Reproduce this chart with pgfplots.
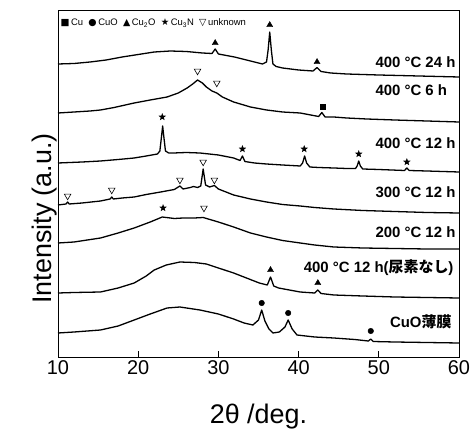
\documentclass[border=0pt]{standalone}
\usepackage{pgfplots}
\pgfplotsset{compat=1.18}
\usepackage{fontspec}
\setmainfont{Liberation Sans}
\newfontfamily\cjk{Noto Sans CJK JP}
\newfontfamily\dejavu{DejaVu Sans}

% filled five-point star
\pgfdeclareplotmark{fstar}{%
  \pgfpathmoveto{\pgfpointpolar{90}{\pgfplotmarksize}}%
  \pgfpathlineto{\pgfpointpolar{126}{0.42\pgfplotmarksize}}%
  \pgfpathlineto{\pgfpointpolar{162}{\pgfplotmarksize}}%
  \pgfpathlineto{\pgfpointpolar{198}{0.42\pgfplotmarksize}}%
  \pgfpathlineto{\pgfpointpolar{234}{\pgfplotmarksize}}%
  \pgfpathlineto{\pgfpointpolar{270}{0.42\pgfplotmarksize}}%
  \pgfpathlineto{\pgfpointpolar{306}{\pgfplotmarksize}}%
  \pgfpathlineto{\pgfpointpolar{342}{0.42\pgfplotmarksize}}%
  \pgfpathlineto{\pgfpointpolar{18}{\pgfplotmarksize}}%
  \pgfpathlineto{\pgfpointpolar{54}{0.42\pgfplotmarksize}}%
  \pgfpathclose\pgfusepathqfill}

\pgfplotsset{trace/.style={black, mark=none, line width=1.3pt, line join=round}}

\begin{document}
\begin{tikzpicture}
\begin{axis}[
    scale only axis,
    width=401bp, height=347bp,
    xmin=10, xmax=60, ymin=0, ymax=347,
    xtick={10,20,...,60}, ytick=\empty,
    xtick pos=lower, tick align=inside,
    major tick length=6bp,
    axis line style={line width=0.8pt},
    every tick/.style={black, line width=0.8pt},
    /pgf/number format/assume math mode=true,
    xticklabel style={font=\fontsize{20}{20}\selectfont},
    xlabel={2θ /deg.},
    xlabel style={at={(axis description cs:0.5,0)}, anchor=center, yshift=-60bp,
        font=\fontsize{27}{27}\selectfont},
    ylabel={Intensity (a.u.)},
    ylabel style={at={(axis description cs:0,0.5)}, anchor=center, xshift=-35bp, yshift=13bp,
        font=\fontsize{27}{27}\selectfont},
    clip=false,
]

% 400 C 24 h
\addplot[trace] coordinates {
(10,293) (12,293.5) (14,295) (16,297) (18,300) (20,302.5) (22,305) (24,306)
(26,305.5) (28,304) (29.2,303.5) (29.6,308) (30.0,303) (32,300) (34,296)
(35.5,293) (36.0,295) (36.2,307) (36.4,325) (36.6,307) (36.8,293) (37.2,290.5)
(38,289) (40,287) (41.8,286) (42.3,289.5) (42.8,285.5) (44,284) (46,283)
(50,282) (55,281) (60,280)};

% 400 C 6 h
\addplot[trace] coordinates {
(10,244) (12,245) (14,246) (15.3,247) (17,249.5) (19.5,254) (21.5,257)
(23.6,260) (25,264) (26.1,269) (26.8,273) (27.4,277) (28,274) (28.5,270)
(29.2,266) (29.8,264) (30.5,260) (31.9,255) (34,250) (36,247) (38,245)
(40.2,244) (42.5,240.5) (42.9,244.5) (43.3,240) (44.4,240) (46,239)
(48.5,238) (52,237) (56,236) (60,235)};

% 400 C 12 h
\addplot[trace] coordinates {
(10,194) (13,195) (15.3,196) (17.5,197.5) (19.5,199) (21,201) (22.4,203)
(22.7,206) (22.9,220) (23.05,231) (23.2,220) (23.4,206) (23.8,204) (24.4,204)
(26,204.5) (27.7,204) (30,202) (31.9,199) (32.7,196.5) (33.0,201) (33.3,195.5)
(34.5,194) (36,193) (38,192) (40.2,191) (40.5,194) (40.75,201) (41.0,194)
(41.4,190) (42.5,189.5) (44.4,189) (46,188.5) (47.1,188.5) (47.3,191)
(47.5,196) (47.7,191) (48.0,188) (50,187.5) (53.2,186.5) (53.5,189)
(53.8,186.5) (56,186) (60,185)};

% 300 C 12 h
\addplot[trace] coordinates {
(10,152) (11.0,153) (11.2,155) (11.4,153) (13,154) (15.3,156) (16.5,158)
(16.7,160) (16.9,158) (18,159) (19.5,160) (21,162.5) (22.8,165) (24.5,167.5)
(25.2,171) (25.6,168) (26.5,169.5) (26.9,170.5) (27.4,169.5) (27.8,171)
(28.1,188) (28.4,172) (28.9,170) (29.5,171.5) (30,168) (31.9,162) (34,158)
(36,155) (38,152.5) (40.2,151) (42,149.5) (44.4,148) (48,146.5) (52,145.5)
(56,144.5) (60,144)};

% 200 C 12 h
\addplot[trace] coordinates {
(10,114) (12,115) (15.3,119) (17.5,124) (19.5,129) (21.5,135) (23.0,140)
(24.5,138.5) (25.6,139) (27,139) (28.1,139.5) (30,135) (31.9,130) (34,124)
(36,120) (38,116.5) (40.2,114) (42,112) (44.4,110) (48,109) (52,108.5)
(56,108) (60,108)};

% 400 C 12 h, no urea
\addplot[trace] coordinates {
(10,64) (12,64.5) (15.3,65) (17.5,69) (19.5,74) (21,81) (22,87) (23.5,92)
(25.2,95) (27,94.5) (28.5,93) (30,89) (31.9,84) (33.5,79) (35.1,74) (36.1,72)
(36.5,80) (36.9,71) (37.5,69) (40.2,65) (42,64) (42.4,67) (42.8,63.5)
(44.4,62) (48,61) (52,60) (56,59.5) (60,59)};

% CuO film
\addplot[trace] coordinates {
(10,24) (12,25) (15.3,27) (17.5,31) (19.5,37) (21.5,43) (23.6,49) (25.2,50)
(27.7,47) (30,43) (31.9,38) (33.2,34) (34.3,32) (35.0,37) (35.4,47) (35.8,36)
(36.3,28) (36.8,24) (37.6,25) (38.3,30) (38.7,37) (39.2,28) (39.8,22)
(42,20) (44.4,19) (47,17.5) (48.7,16) (49.0,18) (49.3,15.5)
(52,15) (56,14.5) (60,14)};

% phase markers
\addplot[only marks, mark=triangle*, mark size=3.5pt, line width=0.4pt]
coordinates {(29.6,314) (36.4,332) (42.3,295) (36.5,87) (42.4,74)};
\addplot[only marks, mark=triangle, mark size=3.8pt, line width=0.6pt,
    mark options={rotate=180, fill=white}]
coordinates {(27.4,286) (29.8,274) (11.2,161) (16.7,167) (25.2,177)
    (28.1,195) (29.5,177) (28.2,149)};
\addplot[only marks, mark=square*, mark size=2.6pt, line width=0.4pt]
coordinates {(43.0,250)};
\addplot[only marks, mark=fstar, mark size=4pt, line width=0.4pt]
coordinates {(23.0,240) (33.0,208) (40.7,208) (47.5,203) (53.5,195) (23.1,149)};
\addplot[only marks, mark=*, mark size=2.8pt, line width=0.4pt]
coordinates {(35.4,54) (38.7,44) (49.0,26)};

% sample labels
\begin{scope}[every node/.style={font=\fontsize{15}{15}\selectfont\bfseries}]
\node[anchor=west] at (axis cs:49.15,295) {400 °C 24 h};
\node[anchor=west] at (axis cs:49.15,267) {400 °C 6 h};
\node[anchor=west] at (axis cs:49.15,214) {400 °C 12 h};
\node[anchor=west] at (axis cs:49.15,165) {300 °C 12 h};
\node[anchor=west] at (axis cs:49.15,125) {200 °C 12 h};
\node[anchor=east] at (axis cs:59.75,89) {400 °C 12 h({\cjk 尿素なし})};
\node[anchor=east] at (axis cs:59.5,35) {CuO{\cjk 薄膜}};
\end{scope}

% phase key
\node[anchor=west, font=\fontsize{9.5}{10}\selectfont, inner sep=0pt] at (axis cs:10.3,334)
{{\dejavu■}\,Cu\ \ {\dejavu●}\,CuO\ \ {\dejavu▲}\,Cu\textsubscript{2}O\ \ {\dejavu★}\,Cu\textsubscript{3}N\ \ {\dejavu▽}\,unknown};

\end{axis}
\pgfresetboundingbox
\path[use as bounding box] (-58bp,-72bp) rectangle (414bp,357bp);
\end{tikzpicture}
\end{document}
